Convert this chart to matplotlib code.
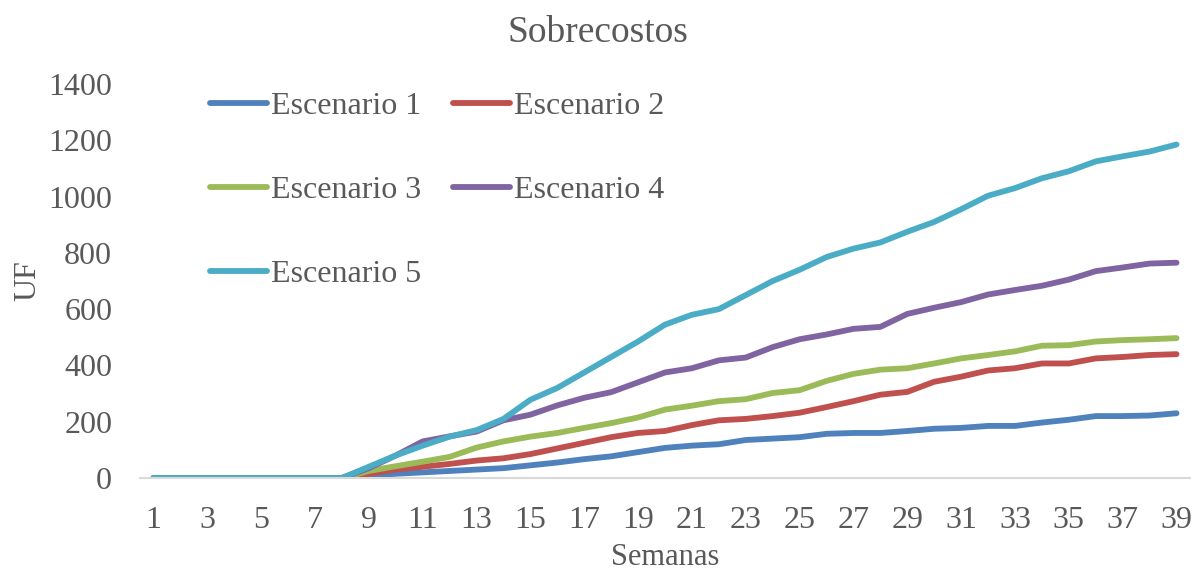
import numpy as np
from matplotlib import pyplot as plt

plt.rcParams["font.family"] = ["Liberation Serif", "DejaVu Serif"]

semanas = list(range(1, 40))
ceros = [0] * 8

esc1 = ceros + [8, 15, 20, 25, 30, 35, 45, 55, 67, 77, 92, 107, 115, 120, 135, 140, 145,
                157, 160, 160, 167, 175, 178, 185, 185, 197, 207, 220, 220, 222, 230]
esc2 = ceros + [15, 30, 40, 50, 62, 70, 85, 105, 125, 145, 160, 167, 188, 205, 210, 220, 232,
                252, 273, 296, 306, 342, 360, 382, 390, 407, 407, 425, 430, 437, 440]
esc3 = ceros + [25, 42, 58, 75, 108, 130, 147, 160, 178, 195, 215, 243, 257, 273, 280, 302, 312,
                345, 370, 385, 390, 407, 425, 437, 450, 470, 472, 485, 490, 493, 497]
esc4 = ceros + [35, 80, 130, 148, 165, 205, 225, 258, 285, 305, 340, 375, 390, 418, 428, 465, 493,
                510, 530, 537, 583, 605, 625, 652, 668, 683, 705, 735, 748, 762, 765]
esc5 = ceros + [40, 80, 115, 147, 170, 210, 278, 320, 375, 430, 485, 545, 580, 600, 650, 700, 740,
                785, 815, 837, 875, 910, 955, 1003, 1030, 1065, 1090, 1125, 1143, 1160, 1185]

nombres = ["Escenario 1", "Escenario 2", "Escenario 3", "Escenario 4", "Escenario 5"]
colores = ["#4F81BD", "#C0504D", "#9BBB59", "#8064A2", "#4BACC6"]
gris = "#595959"

fig = plt.figure(figsize=(11.95, 5.72), dpi=100)
ax = fig.add_axes([140 / 1195, 94 / 572, 1050 / 1195, 394 / 572])

lineas = []
for serie, nombre, color in zip([esc1, esc2, esc3, esc4, esc5], nombres, colores):
    l, = ax.plot(semanas, serie, color=color, lw=4.2, label=nombre, solid_capstyle="round")
    lineas.append(l)

ax.set_xlim(0.5, 39.5)
ax.set_ylim(0, 1400)
ax.set_yticks(np.arange(0, 1401, 200))
ax.set_xticks(semanas[::2])
ax.tick_params(axis="both", length=0, labelsize=23, labelcolor=gris)
ax.tick_params(axis="x", pad=20)
ax.tick_params(axis="y", pad=20)

for lado in ["top", "right", "left"]:
    ax.spines[lado].set_visible(False)
ax.spines["bottom"].set_color("#D9D9D9")
ax.spines["bottom"].set_linewidth(1.5)

# el titulo va centrado en la figura, no en los ejes
fig.suptitle("Sobrecostos", fontsize=27, color=gris, y=1 - 16 / 572, va="top")
ax.set_xlabel("Semanas", fontsize=22, color=gris, labelpad=6)
ax.set_ylabel("UF", fontsize=23, color=gris, labelpad=4)

# orden para que la leyenda se llene por filas
orden = [0, 2, 4, 1, 3]
ax.legend([lineas[i] for i in orden], [nombres[i] for i in orden],
          ncol=2, loc="upper left", bbox_to_anchor=(210 / 1195, 1 - 92 / 572),
          bbox_transform=fig.transFigure, frameon=False, fontsize=23,
          labelcolor=gris, handlelength=1.8, handletextpad=0.1,
          columnspacing=1.0, labelspacing=1.7, borderpad=0, borderaxespad=0)

fig.savefig("out.png", dpi=100)
